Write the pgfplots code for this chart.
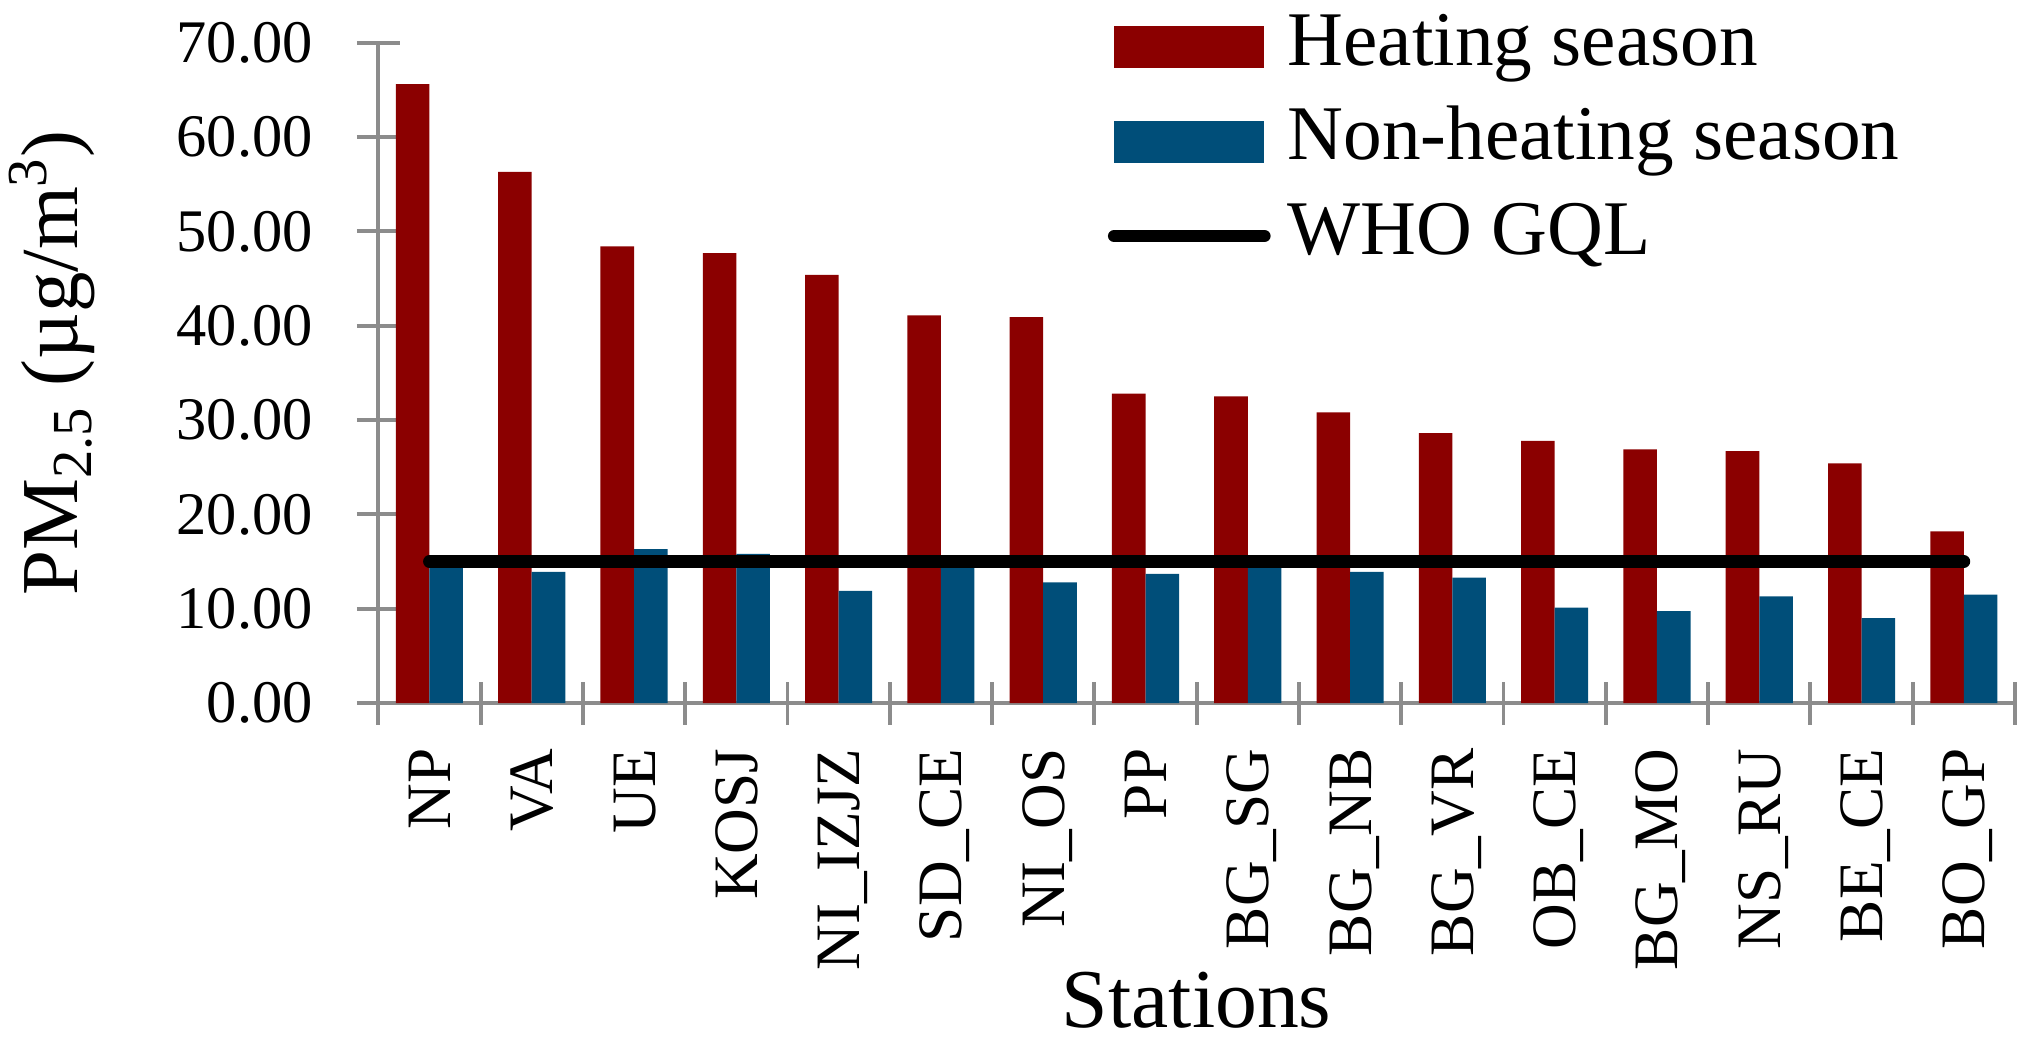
\documentclass[border=0pt]{standalone}
\usepackage{fontspec}
\setmainfont{Liberation Serif}
\usepackage{pgfplots}
\pgfplotsset{compat=1.18}
\definecolor{heat}{RGB}{139,0,0}
\definecolor{nonheat}{RGB}{0,78,121}
\definecolor{axgray}{RGB}{140,140,140}
\begin{document}
\begin{tikzpicture}
\begin{axis}[
  at={(3.783cm,3.41cm)}, anchor=south west,
  scale only axis, width=16.367cm, height=6.603cm,
  xmin=-0.5, xmax=15.5, ymin=0, ymax=70,
  axis lines*=left,
  axis line style={axgray, line width=1.1pt, -},
  every tick/.style={axgray, line width=1.1pt},
  tick align=center, major tick length=0.43cm,
  ytick={0,10,...,70},
  /pgf/number format/fixed, /pgf/number format/fixed zerofill,
  /pgf/number format/precision=2, /pgf/number format/assume math mode=true,
  yticklabel style={font=\fontsize{17.2}{20}\selectfont, inner sep=0pt, xshift=-0.435cm},
  xtick={-0.5,0.5,...,15.5},
  xticklabel={\mbox{}},
  extra x ticks={0,1,...,15},
  extra x tick labels={NP,VA,UE,KOSJ,NI\_IZJZ,SD\_CE,NI\_OS,PP,BG\_SG,BG\_NB,BG\_VR,OB\_CE,BG\_MO,NS\_RU,BE\_CE,BO\_GP},
  extra x tick style={major tick length=0pt,
    xticklabel style={yshift=-0.45cm, rotate=90, anchor=east, inner sep=0pt, text height=0.42cm, text depth=0pt, font=\fontsize{18}{21}\selectfont}},
  xlabel={Stations},
  xlabel style={at={(axis description cs:0.5,-0.4907)}, anchor=base, inner sep=0pt, font=\fontsize{23.8}{28}\selectfont},
  ylabel={PM\textsubscript{2.5} (µg/m\textsuperscript{3})},
  ylabel style={at={(axis description cs:-0.1835,0.515)}, anchor=base, inner sep=0pt, font=\fontsize{23}{27}\selectfont},
  legend style={at={(axis description cs:0.4458,1.048)}, anchor=north west, draw=none, fill=none,
    inner sep=0pt, outer sep=0pt, row sep=0.225cm, column sep=0.17cm,
    font=\fontsize{22}{26}\selectfont,
    nodes={inner sep=0pt, text height=0.54cm, text depth=0.18cm}},
  legend cell align=left,
]
\addplot[ybar, bar width=0.328, bar shift=-0.164, fill=heat, draw=none,
  legend image code/.code={\fill[heat] (0cm,-0.21cm) rectangle (1.50cm,0.21cm);}]
  coordinates {(0,65.6) (1,56.3) (2,48.4) (3,47.7) (4,45.4) (5,41.1) (6,40.9) (7,32.8)
               (8,32.5) (9,30.8) (10,28.6) (11,27.8) (12,26.9) (13,26.7) (14,25.4) (15,18.2)};
\addplot[ybar, bar width=0.328, bar shift=0.164, fill=nonheat, draw=none,
  legend image code/.code={\fill[nonheat] (0cm,-0.21cm) rectangle (1.50cm,0.21cm);}]
  coordinates {(0,15.3) (1,13.9) (2,16.3) (3,15.8) (4,11.9) (5,14.8) (6,12.8) (7,13.7)
               (8,14.8) (9,13.9) (10,13.3) (11,10.1) (12,9.75) (13,11.3) (14,9.0) (15,11.5)};
\addplot[black, line width=0.127cm, line cap=round,
  legend image code/.code={\draw[black, line width=0.127cm, line cap=round] (0cm,0cm) -- (1.50cm,0cm);}]
  coordinates {(0,15) (15,15)};
\legend{Heating season, Non-heating season, WHO GQL}
\end{axis}
\pgfresetboundingbox
\path[use as bounding box] (0,0) rectangle (20.31cm,10.44cm);
\end{tikzpicture}
\end{document}
